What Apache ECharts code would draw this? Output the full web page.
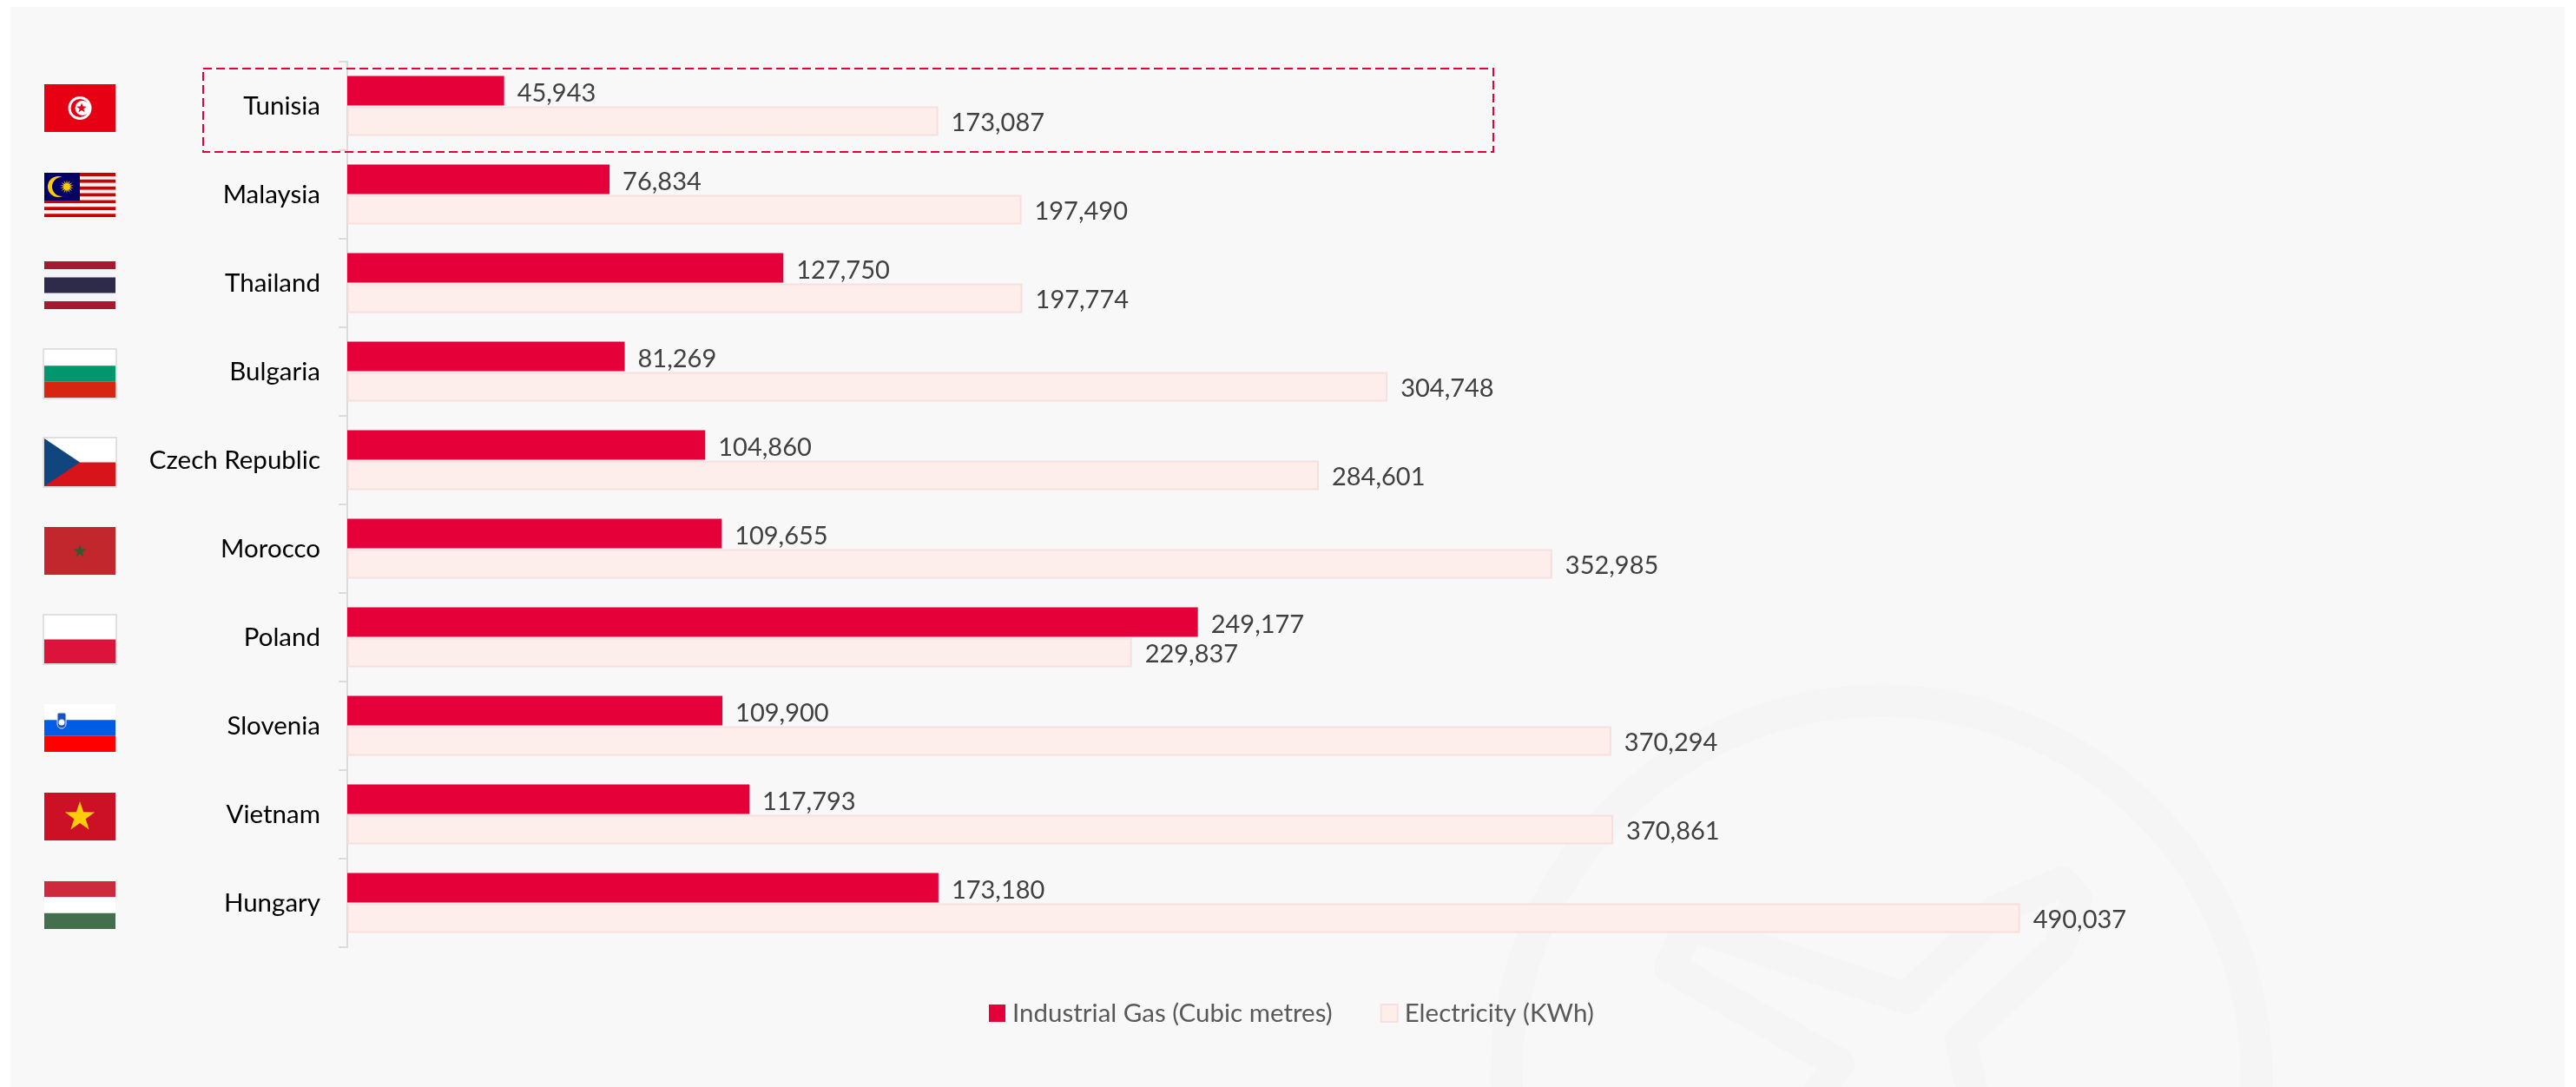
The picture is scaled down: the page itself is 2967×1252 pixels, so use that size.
<!DOCTYPE html>
<html>
<head>
<meta charset="utf-8">
<title>Industrial gas and electricity</title>
<script src="https://cdn.jsdelivr.net/npm/echarts@6/dist/echarts.min.js"></script>
<style>
  html, body { margin: 0; padding: 0; background: #fff; }
  #main { width: 2967px; height: 1252px; }
</style>
</head>
<body>
<div id="main"></div>
<script>
const categories = ['Tunisia', 'Malaysia', 'Thailand', 'Bulgaria', 'Czech Republic', 'Morocco', 'Poland', 'Slovenia', 'Vietnam', 'Hungary']
const gasValues = [45943, 76834, 127750, 81269, 104860, 109655, 249177, 109900, 117793, 173180]
const electricityValues = [173087, 197490, 197774, 304748, 284601, 352985, 229837, 370294, 370861, 490037]
const gasName = 'Industrial Gas (Cubic metres)'
const electricityName = 'Electricity (KWh)'

const FONT = 'Lato'
const FLAG_W = 82
const FLAG_H = 55

function rect(x, y, w, h, fill) {
  return { type: 'rect', shape: { x: x, y: y, width: w, height: h }, style: { fill: fill } }
}
function circle(cx, cy, r, fill) {
  return { type: 'circle', shape: { cx: cx, cy: cy, r: r }, style: { fill: fill } }
}
function star(cx, cy, R, r, n, style) {
  const points = []
  for (let i = 0; i < n * 2; i++) {
    const a = -Math.PI / 2 + i * Math.PI / n
    const d = i % 2 ? r : R
    points.push([cx + d * Math.cos(a), cy + d * Math.sin(a)])
  }
  return { type: 'polygon', shape: { points: points }, style: style }
}
function bands(colors) {
  const h = FLAG_H / colors.length
  return colors.map((c, i) => rect(0, i * h, FLAG_W, h, c))
}
function frame() {
  return { type: 'rect', shape: { x: -1, y: -1, width: FLAG_W + 2, height: FLAG_H + 2 }, style: { fill: 'none', stroke: '#e0e0e0', lineWidth: 2 } }
}

function malaysiaFlag() {
  const out = []
  for (let i = 0; i < 14; i++) {
    out.push(rect(0, i * FLAG_H / 14, FLAG_W, FLAG_H / 14, i % 2 ? '#f4f4f4' : '#cc0001'))
  }
  out.push(rect(0, 0, 41, 32, '#010066'))
  out.push(circle(16, 16, 12, '#ffcc00'))
  out.push(circle(20, 16, 11, '#010066'))
  out.push(star(26, 16, 8, 3.5, 14, { fill: '#ffcc00' }))
  return out
}

const flagDrawers = {
  Tunisia: () => [
    rect(0, 0, FLAG_W, FLAG_H, '#e70013'),
    circle(41, 27.5, 13.5, '#fff'),
    circle(41, 27.5, 10.5, '#e70013'),
    circle(44, 27.5, 8.5, '#fff'),
    star(43, 27.5, 6, 2.5, 5, { fill: '#e70013' })
  ],
  Malaysia: malaysiaFlag,
  Thailand: () => [
    rect(0, 0, FLAG_W, FLAG_H, '#a51931'),
    rect(0, 9, FLAG_W, 37, '#f4f5f8'),
    rect(0, 18.5, FLAG_W, 18, '#2d2a4a')
  ],
  Bulgaria: () => bands(['#ffffff', '#00966e', '#d62612']).concat(frame()),
  'Czech Republic': () => [
    rect(0, 0, FLAG_W, FLAG_H / 2, '#ffffff'),
    rect(0, FLAG_H / 2, FLAG_W, FLAG_H / 2, '#d7141a'),
    { type: 'polygon', shape: { points: [[0, 0], [41, FLAG_H / 2], [0, FLAG_H]] }, style: { fill: '#11457e' } },
    frame()
  ],
  Morocco: () => [
    rect(0, 0, FLAG_W, FLAG_H, '#c1272d'),
    star(41, 28, 8, 3, 5, { fill: '#2f5a2c' })
  ],
  Poland: () => bands(['#ffffff', '#dc143c']).concat(frame()),
  Slovenia: () => bands(['#ffffff', '#005ce5', '#ff0000']).concat([
    { type: 'rect', shape: { x: 15, y: 10, width: 10, height: 18, r: [2, 2, 5, 5] }, style: { fill: '#1a52c4', stroke: '#e8e8f4', lineWidth: 1 } },
    circle(20, 21, 3.5, '#ffffff')
  ]),
  Vietnam: () => [
    rect(0, 0, FLAG_W, FLAG_H, '#cc1126'),
    star(41, 28, 18, 7, 5, { fill: '#ffcd0a' })
  ],
  Hungary: () => bands(['#cd2a3e', '#ffffff', '#436f4d'])
}

const chart = echarts.init(document.getElementById('main'))

function valueLabel(dy) {
  return {
    show: true,
    position: 'right',
    distance: 15,
    offset: [0, dy],
    color: '#404040',
    fontFamily: FONT,
    fontSize: 29,
    formatter: p => p.value.toLocaleString('en-US')
  }
}

chart.setOption({
  backgroundColor: '#ffffff',
  animation: false,
  legend: {
    left: 1134,
    top: 1147,
    itemWidth: 19,
    itemHeight: 20,
    itemGap: 55,
    icon: 'rect',
    textStyle: { color: '#595959', fontFamily: FONT, fontSize: 29.5, padding: [0, 0, 0, 3] },
    data: [gasName, electricityName]
  },
  grid: { left: 400, top: 71, width: 2359, height: 1020, containLabel: false },
  xAxis: { type: 'value', min: 0, max: 600000, show: false },
  yAxis: {
    type: 'category',
    inverse: true,
    data: categories,
    axisLine: { show: true, lineStyle: { color: '#dcdcdc', width: 2 } },
    axisTick: { show: true, length: 10, lineStyle: { color: '#dcdcdc', width: 2 } },
    axisLabel: { margin: 31, color: '#000000', fontFamily: FONT, fontSize: 29.5 }
  },
  series: [
    {
      name: gasName,
      type: 'bar',
      barWidth: 34,
      barGap: '3%',
      data: gasValues,
      itemStyle: { color: '#e60039' },
      label: valueLabel(3)
    },
    {
      name: electricityName,
      type: 'bar',
      barWidth: 34,
      data: electricityValues,
      itemStyle: { color: '#fdeeeb', borderColor: '#f5dfdf', borderWidth: 2 },
      label: valueLabel(2)
    }
  ]
})

// flags follow the category axis, the rest is page decoration
const flags = categories.map(name => ({
  type: 'group',
  x: 51,
  y: chart.convertToPixel({ yAxisIndex: 0 }, name) + 2.5 - FLAG_H / 2,
  children: flagDrawers[name]()
}))

const watermarkLogo = [[2087, 1270], [2118, 1225], [1923, 1114], [1946, 1066], [2196, 1150], [2300, 1048], [2375, 1016], [2392, 1035], [2372, 1090], [2258, 1198], [2275, 1270]]

chart.setOption({
  graphic: [
    { type: 'rect', z: -10, shape: { x: 12, y: 8, width: 2942, height: 1244 }, style: { fill: '#f8f8f8' } },
    { type: 'circle', z: -9, shape: { cx: 2167, cy: 1239, r: 432 }, style: { fill: 'none', stroke: '#f5f5f5', lineWidth: 37 } },
    { type: 'polyline', z: -9, shape: { points: watermarkLogo }, style: { fill: 'none', stroke: '#f5f5f5', lineWidth: 36, lineJoin: 'round', lineCap: 'round' } },
    { type: 'rect', z: 5, shape: { x: 234, y: 79, width: 1486, height: 96 }, style: { fill: 'none', stroke: '#e60039', lineWidth: 2, lineDash: [10, 5] } }
  ].concat(flags)
})
</script>
</body>
</html>
